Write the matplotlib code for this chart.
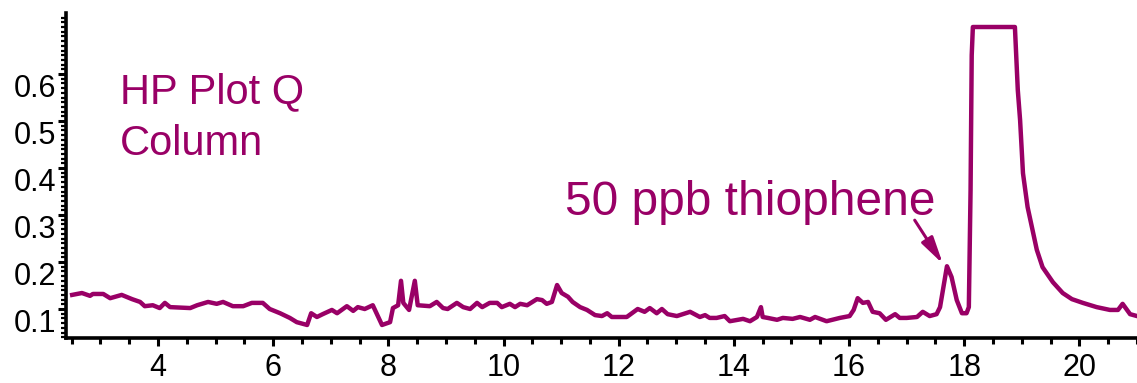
import matplotlib.pyplot as plt
from matplotlib.ticker import MultipleLocator

plt.rcParams['font.family'] = ['Liberation Sans', 'DejaVu Sans']

# retention time (min) and detector signal
time = [2.51, 2.68, 2.82, 2.87, 3.05, 3.17, 3.37, 3.55, 3.69, 3.77, 3.91, 4.03,
        4.12, 4.21, 4.56, 4.68, 4.87, 5.02, 5.13, 5.30, 5.48, 5.63, 5.82, 5.94,
        6.12, 6.29, 6.41, 6.59, 6.66, 6.76, 6.86, 7.02, 7.11, 7.28, 7.39, 7.47,
        7.59, 7.73, 7.89, 8.03, 8.08, 8.17, 8.22, 8.26, 8.36, 8.46, 8.51, 8.72,
        8.84, 8.95, 9.03, 9.19, 9.30, 9.42, 9.54, 9.63, 9.76, 9.89, 9.97, 10.11,
        10.20, 10.29, 10.41, 10.58, 10.67, 10.75, 10.84, 10.93, 11.01, 11.12,
        11.20, 11.33, 11.45, 11.59, 11.71, 11.80, 11.88, 11.97, 12.14, 12.33,
        12.45, 12.54, 12.66, 12.75, 12.85, 13.01, 13.24, 13.41, 13.50, 13.58,
        13.70, 13.84, 13.93, 14.16, 14.28, 14.40, 14.47, 14.50, 14.59, 14.75,
        14.85, 15.02, 15.15, 15.32, 15.41, 15.61, 15.84, 16.01, 16.08, 16.15,
        16.24, 16.33, 16.41, 16.53, 16.64, 16.80, 16.88, 17.00, 17.18, 17.28,
        17.40, 17.52, 17.58, 17.65, 17.70, 17.78, 17.87, 17.96, 18.04, 18.08,
        18.11, 18.13, 18.15, 18.88, 18.93, 18.97, 19.02, 19.10, 19.26, 19.36,
        19.54, 19.71, 19.87, 20.06, 20.30, 20.53, 20.67, 20.75, 20.88, 21.00]
signal = [0.130, 0.134, 0.128, 0.132, 0.132, 0.123, 0.130, 0.121, 0.115, 0.106,
          0.108, 0.102, 0.113, 0.104, 0.102, 0.108, 0.115, 0.111, 0.115, 0.106,
          0.106, 0.113, 0.113, 0.100, 0.091, 0.081, 0.072, 0.066, 0.091, 0.083,
          0.089, 0.098, 0.091, 0.106, 0.096, 0.104, 0.100, 0.108, 0.066, 0.072,
          0.102, 0.108, 0.160, 0.113, 0.098, 0.160, 0.108, 0.106, 0.115, 0.102,
          0.100, 0.113, 0.104, 0.100, 0.113, 0.104, 0.113, 0.113, 0.104, 0.111,
          0.104, 0.111, 0.108, 0.121, 0.119, 0.111, 0.115, 0.151, 0.134, 0.126,
          0.115, 0.104, 0.098, 0.087, 0.085, 0.091, 0.083, 0.083, 0.083, 0.100,
          0.094, 0.102, 0.091, 0.100, 0.089, 0.085, 0.094, 0.083, 0.087, 0.081,
          0.081, 0.085, 0.074, 0.079, 0.074, 0.083, 0.104, 0.083, 0.081, 0.077,
          0.081, 0.079, 0.083, 0.077, 0.083, 0.074, 0.081, 0.085, 0.098, 0.123,
          0.113, 0.115, 0.094, 0.091, 0.077, 0.089, 0.081, 0.081, 0.083, 0.094,
          0.085, 0.089, 0.104, 0.155, 0.191, 0.168, 0.119, 0.091, 0.091, 0.104,
          0.353, 0.640, 0.700, 0.700, 0.566, 0.502, 0.389, 0.317, 0.226, 0.189,
          0.157, 0.134, 0.121, 0.113, 0.104, 0.098, 0.098, 0.111, 0.089, 0.085]

purple = '#990066'

fig = plt.figure(figsize=(11.37, 3.83), dpi=100)
ax = fig.add_axes([66 / 1137, 45 / 383, 1 - 66 / 1137, (338 - 13) / 383])

ax.plot(time, signal, color=purple, lw=3.2, solid_joinstyle='round')

ax.set_xlim(2.403, 21.0)
ax.set_ylim(0.0383, 0.7298)

for s in ['top', 'right']:
    ax.spines[s].set_visible(False)
for s in ['left', 'bottom']:
    ax.spines[s].set_linewidth(2.6)

ax.xaxis.set_minor_locator(MultipleLocator(0.5))
ax.yaxis.set_minor_locator(MultipleLocator(0.01))
ax.set_xticks([4, 6, 8, 10, 12, 14, 16, 18, 20])
ax.set_yticks([0.1, 0.2, 0.3, 0.4, 0.5, 0.6])
ax.set_yticklabels(['0.1', '0.2', '0.3', '0.4', '0.5', '0.6'])

ax.tick_params(axis='x', which='major', direction='out', length=6, width=2.2,
               labelsize=22, pad=5)
ax.tick_params(axis='x', which='minor', direction='out', length=4, width=2.2)
ax.tick_params(axis='y', which='major', direction='out', length=6, width=2.2,
               labelsize=22, pad=1)
ax.tick_params(axis='y', which='minor', direction='out', length=3.5, width=1.6)
for lab in ax.get_yticklabels():
    lab.set_va('top')

ax.text(3.34, 0.538, 'HP Plot Q', color=purple, fontsize=30, va='baseline')
ax.text(3.34, 0.428, 'Column', color=purple, fontsize=30, va='baseline')
ax.text(11.07, 0.30, '50 ppb thiophene', color=purple, fontsize=34.5,
        va='baseline')
ax.annotate('', xy=(17.63, 0.196), xytext=(17.14, 0.289),
            arrowprops=dict(arrowstyle='-|>,head_length=0.9,head_width=0.22',
                            color=purple, lw=2.2, mutation_scale=18,
                            shrinkA=0, shrinkB=0))

fig.savefig('out.png', dpi=100)
